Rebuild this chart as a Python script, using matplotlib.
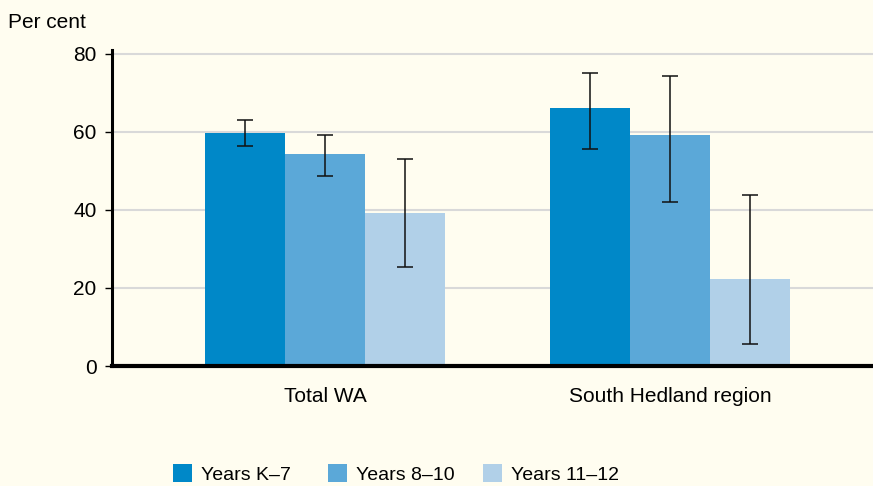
import matplotlib
matplotlib.use('Agg')
import matplotlib.pyplot as plt
import numpy as np

plt.rcParams['font.family'] = ['Liberation Sans Narrow', 'Liberation Sans', 'DejaVu Sans']

# share of students per region, by school year group
regions = ['Total WA', 'South Hedland region']
series = ['Years K\u20137', 'Years 8\u201310', 'Years 11\u201312']
values = [
    [59.8, 66.2],   # Years K-7
    [54.3, 59.1],   # Years 8-10
    [39.3, 22.4],   # Years 11-12
]
err_low = [
    [56.3, 55.7],
    [48.7, 42.1],
    [25.4, 5.7],
]
err_high = [
    [63.0, 75.2],
    [59.3, 74.4],
    [53.0, 43.8],
]
colors = ['#0088c8', '#5ba8d8', '#b1d0e8']
bg = '#fffdf0'

fig = plt.figure(figsize=(8.73, 4.86), dpi=100, facecolor=bg)
ax = fig.add_axes([112 / 873, 1 - 366 / 486, 1 - 112 / 873, (366 - 50) / 486])
ax.set_facecolor(bg)

x = np.arange(len(regions))
w = 0.232
handles = []
for i, name in enumerate(series):
    pos = x + (i - 1) * w
    v = np.array(values[i])
    lo = v - np.array(err_low[i])
    hi = np.array(err_high[i]) - v
    b = ax.bar(pos, v, width=w, color=colors[i], label=name, zorder=2)
    ax.errorbar(pos, v, yerr=[lo, hi], fmt='none', ecolor='#111111',
                elinewidth=1.1, capsize=5.5, capthick=1.1, zorder=3)
    handles.append(b)

ax.set_ylim(0, 81)
ax.set_xlim(-0.617, 1.588)
ax.set_yticks([0, 20, 40, 60, 80])
ax.set_xticks(x)
ax.set_xticklabels(regions)
for yv in [20, 40, 60, 80]:
    ax.axhline(yv, color='#d9d9d9', lw=1.5, zorder=1)

ax.tick_params(axis='y', length=5, width=1, labelsize=15, pad=6)
ax.tick_params(axis='x', length=0, labelsize=15, pad=15)
for s in ['top', 'right']:
    ax.spines[s].set_visible(False)
ax.spines['left'].set_linewidth(2.2)
ax.spines['bottom'].set_linewidth(3)
ax.spines['bottom'].set_zorder(4)

fig.text(8 / 873, 1 - 22 / 486, 'Per cent', fontsize=15, va='center', ha='left')

# one legend per series so the entries sit at even spacing
for i, h in enumerate(handles):
    fig.legend([h], [series[i]], loc='center left',
               bbox_to_anchor=((173 + 155 * i) / 873, 1 - 474 / 486),
               frameon=False, fontsize=14, handlelength=1.0, handleheight=1.0,
               handletextpad=0.45, borderaxespad=0, borderpad=0)

fig.savefig('out.png', dpi=100, facecolor=bg)
